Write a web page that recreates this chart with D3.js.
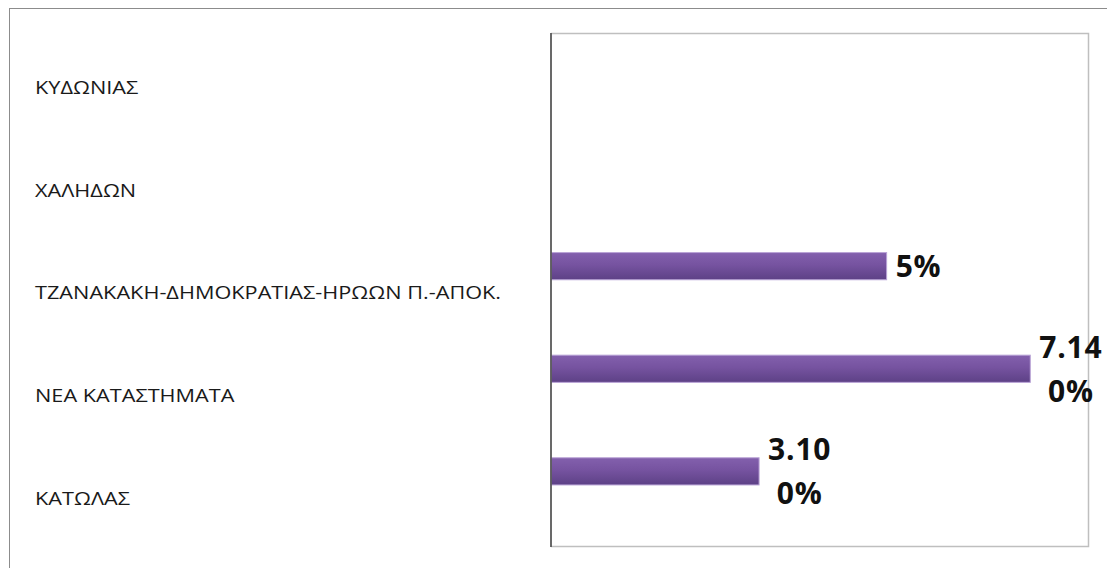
<!DOCTYPE html>
<html>
<head>
<meta charset="utf-8">
<script src="https://cdn.jsdelivr.net/npm/d3@7"></script>
<style>
  html, body { margin: 0; padding: 0; background: #fff; }
  svg { display: block; }
</style>
</head>
<body>
<svg id="chart" width="1107" height="568"></svg>
<script>
// Store categories, top to bottom
const categories = [
  "ΚΥΔΩΝΙΑΣ",
  "ΧΑΛΗΔΩΝ",
  "ΤΖΑΝΑΚΑΚΗ-ΔΗΜΟΚΡΑΤΙΑΣ-ΗΡΩΩΝ Π.-ΑΠΟΚ.",
  "ΝΕΑ ΚΑΤΑΣΤΗΜΑΤΑ",
  "ΚΑΤΩΛΑΣ"
];
// Share per store, in percent
const values = [0, 0, 5, 7.14, 3.10];
// Value axis extent (no ticks shown)
const valueDomain = [0, 8];

const svg = d3.select("#chart");
const plot = { left: 551, top: 33, right: 1088, bottom: 546 };

// Outer frame (runs past the right and bottom edges)
svg.append("rect")
  .attr("x", 9.5).attr("y", 8.5)
  .attr("width", 1300).attr("height", 800)
  .attr("fill", "none").attr("stroke", "#8c8c8c").attr("stroke-width", 1);

const x = d3.scaleLinear().domain(valueDomain).range([plot.left, plot.right]);
const y = d3.scaleBand().domain(categories).range([plot.top, plot.bottom]).paddingInner(0).paddingOuter(0);

// Plot area border (top, right, bottom)
svg.append("path")
  .attr("fill", "none").attr("stroke", "#bfbfbf").attr("stroke-width", 1.5)
  .attr("d", `M${plot.left},${plot.top + 0.5}H${plot.right + 0.5}V${plot.bottom + 0.5}H${plot.left}`);

// Bar gradient
const defs = svg.append("defs");
const grad = defs.append("linearGradient").attr("id", "barGrad")
  .attr("x1", 0).attr("y1", 0).attr("x2", 0).attr("y2", 1);
grad.append("stop").attr("offset", "0%").attr("stop-color", "#8360ad");
grad.append("stop").attr("offset", "45%").attr("stop-color", "#7653a0");
grad.append("stop").attr("offset", "100%").attr("stop-color", "#5d4186");

const bw = y.bandwidth();
const barOffset = bw * 0.14;
const barH = bw * 0.265;

const rows = categories.map((c, i) => ({ cat: c, v: values[i] }));

// Bars
svg.append("g").selectAll("rect").data(rows).join("rect")
  .attr("x", x(0))
  .attr("y", d => y(d.cat) + barOffset)
  .attr("width", d => x(d.v) - x(0))
  .attr("height", barH)
  .attr("fill", "url(#barGrad)")
  .attr("stroke", "#b9a3d6")
  .attr("stroke-width", 1);

// Category axis; labels sit left-aligned at the frame's inner margin, slightly widened
const yAxis = d3.axisLeft(y).tickSize(0).tickPadding(0);
const ag = svg.append("g").attr("transform", `translate(${plot.left},0)`).call(yAxis);
ag.select(".domain").attr("stroke", "#595959").attr("stroke-width", 1.8)
  .attr("d", `M0,${plot.top}V${plot.bottom + 1}`);
ag.selectAll(".tick text")
  .attr("x", 0)
  .attr("y", 0)
  .attr("transform", `translate(${35 - plot.left},3.5) scale(1.24,1)`)
  .attr("text-anchor", "start")
  .attr("dy", "0.36em")
  .attr("font-family", "'Open Sans', 'Noto Sans', sans-serif")
  .attr("font-size", 17.5)
  .attr("fill", "#1a1a1a");

// Data labels, wrapped after the first four characters like the source
const fmt = v => (Number.isInteger(v) ? d3.format("d")(v) : d3.format(".3f")(v)) + "%";
const lg = svg.append("g")
  .attr("font-family", "'Open Sans', 'Noto Sans', sans-serif")
  .attr("font-weight", "bold")
  .attr("font-size", 30)
  .attr("letter-spacing", 0.8)
  .attr("fill", "#111");
const lineH = 44;
rows.filter(d => d.v > 0).forEach(d => {
  const s = fmt(d.v);
  const lines = s.length > 4 ? [s.slice(0, 4), s.slice(4)] : [s];
  const t = lg.append("text").attr("text-anchor", "middle");
  lines.forEach(ln => t.append("tspan").text(ln));
  // width of the widest line
  let maxW = 0;
  t.selectAll("tspan").each(function () { maxW = Math.max(maxW, this.getComputedTextLength()); });
  const cx = x(d.v) + 9 + maxW / 2;
  const cy = y(d.cat) + barOffset + barH / 2;
  const firstBase = cy - (lines.length - 1) * lineH / 2 + 11;
  t.selectAll("tspan")
    .attr("x", cx)
    .attr("y", (_, k) => firstBase + k * lineH);
});
</script>
</body>
</html>
